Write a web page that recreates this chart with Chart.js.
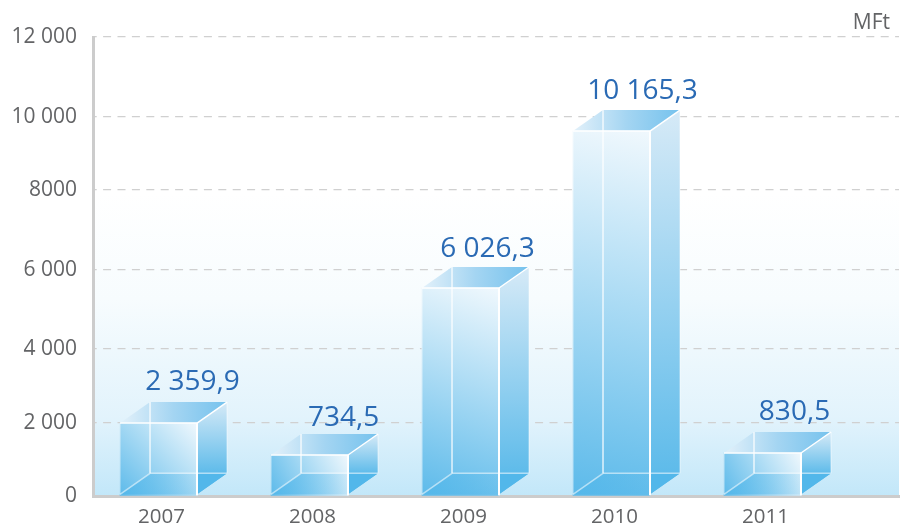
<!DOCTYPE html>
<html lang="hu">
<head>
<meta charset="utf-8">
<title>MFt 2007-2011</title>
<script src="https://cdn.jsdelivr.net/npm/chart.js@4"></script>
<style>
  html, body { margin: 0; padding: 0; background: #fff; }
  canvas { display: block; }
</style>
</head>
<body>
<canvas id="myChart" width="902" height="525"></canvas>
<script>
const years = [2007, 2008, 2009, 2010, 2011];
// printed values above the boxes
const valueLabels = ['2 359,9', '734,5', '6 026,3', '10 165,3', '830,5'];
// the drawn boxes do not follow the printed values: these are the front face heights
const barHeights = [1908, 1072, 5438, 9542, 1124];
const yTickStops = [0, 1908, 3843, 5908, 8000, 9908, 12000];
const yTickLabels = ['0', '2 000', '4 000', '6 000', '8000', '10 000', '12 000'];
const unitLabel = 'MFt';

const FONT = '"Open Sans", sans-serif';
const GREY = '#636466';
const BLUE = '#2a6ab4';
const DEPTH_X = 30;
const DEPTH_Y = 21;
// small per-label corrections, the labels are not placed evenly over the boxes
const LABEL_NUDGE = [[1, -1], [1, 3], [-6, 1], [-2, 0], [-1, -1]];

function poly(ctx, pts, fill) {
    ctx.beginPath();
    pts.forEach((p, i) => i ? ctx.lineTo(p[0], p[1]) : ctx.moveTo(p[0], p[1]));
    ctx.closePath();
    ctx.fillStyle = fill;
    ctx.fill();
}

function line(ctx, x1, y1, x2, y2, color, width) {
    ctx.beginPath();
    ctx.moveTo(x1, y1);
    ctx.lineTo(x2, y2);
    ctx.strokeStyle = color;
    ctx.lineWidth = width;
    ctx.stroke();
}

function grad(ctx, x1, y1, x2, y2, stops) {
    const g = ctx.createLinearGradient(x1, y1, x2, y2);
    stops.forEach((s, i) => g.addColorStop(i / (stops.length - 1), s));
    return g;
}

// light blue wash behind the plot
const backdrop = {
    id: 'backdrop',
    beforeDatasetsDraw(chart) {
        const { ctx, chartArea: a } = chart;
        const g = ctx.createLinearGradient(0, a.top, 0, a.bottom);
        g.addColorStop(0, '#ffffff');
        g.addColorStop(0.34, '#ffffff');
        g.addColorStop(0.57, '#f7fcfe');
        g.addColorStop(0.83, '#e2f3fc');
        g.addColorStop(1, '#c2e7f9');
        ctx.save();
        ctx.globalCompositeOperation = 'destination-over';
        ctx.fillStyle = g;
        ctx.fillRect(a.left, a.top, a.right - a.left, a.bottom - a.top);
        ctx.restore();
    }
};

// right and top faces go behind the Chart.js bar, which is the front face
const boxSides = {
    id: 'boxSides',
    beforeDatasetDraw(chart) {
        const ctx = chart.ctx;
        chart.getDatasetMeta(0).data.forEach(bar => {
            const l = bar.x - bar.width / 2, r = bar.x + bar.width / 2;
            const t = bar.y, b = bar.base - 1;
            const dx = DEPTH_X, dy = DEPTH_Y;
            ctx.save();
            poly(ctx, [[l, t], [l + dx, t - dy], [r + dx, t - dy], [r, t]],
                grad(ctx, l, 0, r + dx, 0, ['#e3f1fa', '#a4d5f2', '#75c2ed']));
            poly(ctx, [[r, t], [r + dx, t - dy], [r + dx, b - dy], [r, b]],
                grad(ctx, 0, t - dy, 0, b - dy, ['#d6eaf7', '#5ebbea']));
            ctx.restore();
        });
    },
    afterDatasetDraw(chart) {
        const ctx = chart.ctx;
        chart.getDatasetMeta(0).data.forEach(bar => {
            const l = bar.x - bar.width / 2, r = bar.x + bar.width / 2;
            const t = bar.y, b = bar.base - 1;
            const dx = DEPTH_X, dy = DEPTH_Y;
            ctx.save();
            poly(ctx, [[r, b], [r + dx, b - dy], [r, b - dy]], '#52b7ea');
            poly(ctx, [[l, b], [l + dx, b - dy], [r, b - dy], [r, b]],
                grad(ctx, l, 0, r, 0, ['rgba(82,183,234,0.75)', 'rgba(82,183,234,0.12)']));
            const soft = 'rgba(255,255,255,0.55)';
            line(ctx, l + dx, t - dy, l + dx, b - dy, 'rgba(255,255,255,0.8)', 1.5);
            line(ctx, l + dx, b - dy, r + dx, b - dy, soft, 1.5);
            line(ctx, r + dx, t - dy, r + dx, b - dy, soft, 1);
            line(ctx, l, b, l + dx, b - dy, soft, 1.5);
            line(ctx, l, t, l, b, soft, 1);
            line(ctx, l, t, r, t, '#ffffff', 1.5);
            line(ctx, r, t, r, b + 1, '#ffffff', 2);
            line(ctx, r, t, r + dx, t - dy, '#ffffff', 1.5);
            ctx.restore();
        });
    }
};

const textLabels = {
    id: 'textLabels',
    afterDraw(chart) {
        const { ctx, chartArea: a } = chart;
        ctx.save();
        ctx.textBaseline = 'alphabetic';
        ctx.textAlign = 'center';
        ctx.fillStyle = BLUE;
        ctx.font = '28px ' + FONT;
        chart.getDatasetMeta(0).data.forEach((bar, i) => {
            const nudge = LABEL_NUDGE[i];
            ctx.fillText(valueLabels[i], bar.x + DEPTH_X + 3 + nudge[0], bar.y - DEPTH_Y - 11 + nudge[1]);
        });
        ctx.textAlign = 'right';
        ctx.fillStyle = GREY;
        ctx.font = '21px ' + FONT;
        ctx.fillText(unitLabel, a.right - 9, a.top - 8);
        ctx.restore();
    }
};

const ctx = document.getElementById('myChart').getContext('2d');

new Chart(ctx, {
    type: 'bar',
    data: {
        datasets: [{
            data: years.map((y, i) => ({ x: y, y: barHeights[i] })),
            barThickness: 77,
            borderWidth: 0,
            backgroundColor(c) {
                if (!c.parsed) return '#5cbaea';
                const { x, y } = c.chart.scales;
                const left = x.getPixelForValue(c.parsed.x) - 38.5;
                const top = y.getPixelForValue(c.parsed.y);
                const base = y.getPixelForValue(0);
                if (![left, top, base].every(Number.isFinite)) return '#5cbaea';
                return grad(c.chart.ctx, left + 77, top, left, base, ['#f0f8fd', '#5cbaea']);
            }
        }]
    },
    plugins: [backdrop, boxSides, textLabels],
    options: {
        responsive: false,
        animation: false,
        layout: { padding: { top: 37, right: 3, left: 0, bottom: 0 } },
        plugins: { legend: { display: false }, title: { display: false }, tooltip: { enabled: false } },
        scales: {
            x: {
                type: 'linear',
                offset: false,
                min: 2006.566,
                max: 2011.904,
                afterBuildTicks(scale) { scale.ticks = years.map(v => ({ value: v })); },
                afterFit(scale) { scale.height = 29; },
                grid: { display: false },
                border: { color: '#cccccc', width: 3 },
                ticks: {
                    callback: v => String(v),
                    autoSkip: false,
                    maxRotation: 0,
                    labelOffset: 3,
                    padding: 1,
                    color: GREY,
                    font: { family: FONT, size: 20.5 }
                }
            },
            y: {
                min: 0,
                max: 12000,
                afterBuildTicks(scale) { scale.ticks = yTickStops.map(v => ({ value: v })); },
                afterFit(scale) { scale.width = 93; },
                grid: { color: '#d0d0d0', lineWidth: 1.3, drawTicks: false },
                border: { color: '#cccccc', width: 3, dash: [8, 6.4], dashOffset: 6.3 },
                ticks: {
                    callback: (v, i) => yTickLabels[i],
                    padding: 16,
                    color: GREY,
                    font: { family: FONT, size: 21 }
                }
            }
        }
    }
});
</script>
</body>
</html>
